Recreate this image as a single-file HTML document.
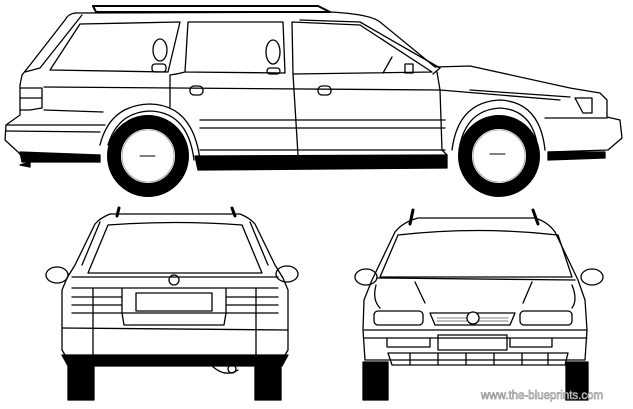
<!DOCTYPE html>
<html><head><style>body{margin:0;background:#fff}svg{display:block}</style></head>
<body>
<svg width="633" height="409" viewBox="0 0 633 409" xmlns="http://www.w3.org/2000/svg" fill="none" stroke="#000" stroke-width="1.3" stroke-linejoin="round" stroke-linecap="round">
<!-- SIDE VIEW -->
<path d="M93,6 L318,6 L330,12 M93,6 L96,12 L330,12" stroke-width="2"/>
<path d="M75,13 L330,12 Q370,14 380,22 L435,67 L470,66 L570,88 L600,93 L607,100 L607,117 L620,120 L622,138 L608,150 L548,152"/>
<path d="M75,13 Q68,14 65,20 L30,65 L22,75 L20,85 L20,115 L6,125 L5,140 L18,152 L25,160 L100,162"/>
<path d="M82,15 L40,68 L25,72"/>
<path d="M20,88 L42,88 L42,108 L30,110 L20,110 M20,98 L42,98"/>
<path d="M6,125 L105,125 M6,131 L100,132"/>
<path d="M20,152 L100,155 L100,162 L22,162 Z" fill="#000"/>
<path d="M20,165 L30,162 L30,167 Z" fill="#000"/>
<path d="M195,156 L447,155 L447,168 L198,170 Z" fill="#000"/>
<path d="M548,152 L605,152 L605,158 L548,160 Z" fill="#000"/>
<!-- windows -->
<path d="M50,70 L80,24 L180,22 L168,72 Z"/>
<path d="M185,72 L188,22 L283,22 L285,73 Z"/>
<path d="M293,74 L292,22 L360,25 L432,72 Z"/>
<path d="M300,20 L360,22 L440,68 L433,74"/>
<ellipse cx="160" cy="50" rx="7" ry="11"/><rect x="152" y="64" width="14" height="8" rx="3"/>
<ellipse cx="273" cy="52" rx="7" ry="12"/><rect x="267" y="68" width="13" height="6" rx="3"/>
<path d="M383,73 L392,57 M405,64 L413,64 L413,73 L405,73 Z"/>
<!-- door lines -->
<path d="M170,75 L170,107 M185,72 Q178,74 170,75 M293,74 L298,155 M437,72 L440,90 L442,150 L447,155"/>
<path d="M44,87 L440,90 M200,120 L445,120 M200,128 L445,128 M200,150 L445,150 M44,110 L103,112"/>
<path d="M440,90 L560,100 M470,90 L570,97"/>
<rect x="190" y="86" width="13" height="9" rx="4"/><rect x="318" y="86" width="13" height="9" rx="4"/>
<path d="M575,98 L592,98 L592,113 L583,113 Z M545,118 L607,118"/>
<!-- arches -->
<path d="M100,145 Q110,105 150,104 Q193,105 200,160"/>
<path d="M108,145 Q118,112 150,111 Q188,112 194,160"/>
<path d="M452,150 Q458,102 500,100 Q540,102 545,150"/>
<path d="M459,150 Q465,110 500,108 Q534,110 538,150"/>
<circle cx="148" cy="156" r="34" stroke-width="14"/>
<circle cx="148" cy="156" r="26" stroke-width="0.6" stroke="#888"/>
<circle cx="499" cy="156" r="34" stroke-width="14"/>
<circle cx="499" cy="156" r="26" stroke-width="0.6" stroke="#888"/>
<path d="M140,156 L155,156 M490,154 L505,154" stroke-width="1"/>
<!-- REAR VIEW -->
<path d="M119,208 L117,216 M232,208 L235,216" stroke-width="3"/>
<path d="M110,214 L240,214 Q250,218 255,224 L275,265 L283,278 L288,290 L288,350 L282,360 L68,360 L62,350 L62,290 L67,278 L75,265 L95,224 Q100,218 110,214 Z"/>
<path d="M88,273 L108,225 Q175,220 242,225 L262,273 Z"/>
<path d="M100,222 L82,265 M250,222 L268,265"/>
<ellipse cx="57" cy="275" rx="11" ry="8"/><ellipse cx="287" cy="274" rx="11" ry="8"/>
<path d="M72,277 L278,277 M72,288 L278,288 M72,313 L278,313 M72,297 L122,297 M72,305 L122,305 M226,297 L278,297 M226,305 L278,305 M93,288 L93,313 M122,288 L122,313 M226,288 L226,313 M256,288 L256,313"/>
<rect x="136" y="293" width="76" height="18"/>
<path d="M93,313 L93,355 M256,313 L256,355 M62,328 L288,330 M122,313 L124,325 L224,325 L226,313"/>
<circle cx="174" cy="280" r="5"/>
<path d="M62,355 L288,355 L282,366 L68,366 Z" fill="#000"/>
<rect x="68" y="360" width="26" height="40" fill="#000"/><rect x="255" y="360" width="26" height="40" fill="#000"/>
<path d="M212,366 Q225,378 238,370"/><circle cx="232" cy="369" r="4"/>
<!-- FRONT VIEW -->
<path d="M413,210 L410,224 M533,210 L538,224" stroke-width="3"/>
<path d="M418,218 L535,218 Q548,222 555,232 L578,280 L585,300 L587,330 L585,360 L365,360 L363,330 L364,300 L372,280 L395,232 Q403,222 418,218 Z"/>
<path d="M380,277 L398,235 Q478,226 558,235 L572,277 Z"/>
<ellipse cx="366" cy="277" rx="11" ry="8"/><ellipse cx="592" cy="277" rx="11" ry="8"/>
<path d="M378,278 L575,280 M415,282 L425,303 M532,282 L523,303 M376,285 Q372,300 380,308 M572,285 Q578,300 572,308"/>
<rect x="374" y="311" width="49" height="14" rx="4"/><rect x="520" y="311" width="52" height="14" rx="4"/>
<path d="M430,313 L515,313 L510,325 L435,325 Z"/>
<path d="M437,318 L508,318 M437,321 L508,321" stroke-width="0.6"/>
<circle cx="473" cy="318" r="6" fill="#fff"/>
<path d="M364,330 L587,330 M364,338 L587,338 M387,338 L387,347 L430,347 L430,338 M510,338 L510,347 L552,347 L552,338"/>
<rect x="438" y="335" width="69" height="15"/>
<path d="M388,353 L568,353 L565,365 L392,365 Z M410,353 L410,365 M438,353 L438,365 M466,353 L466,365 M494,353 L494,365 M522,353 L522,365 M548,353 L548,365"/>
<rect x="363" y="362" width="25" height="38" fill="#000"/><rect x="566" y="362" width="22" height="38" fill="#000"/>
<text x="481" y="399" font-family="Liberation Sans, sans-serif" font-size="11.5" fill="#fff" stroke="#999" stroke-width="0.7">www.the-blueprints.com</text>
</svg>
</body></html>
